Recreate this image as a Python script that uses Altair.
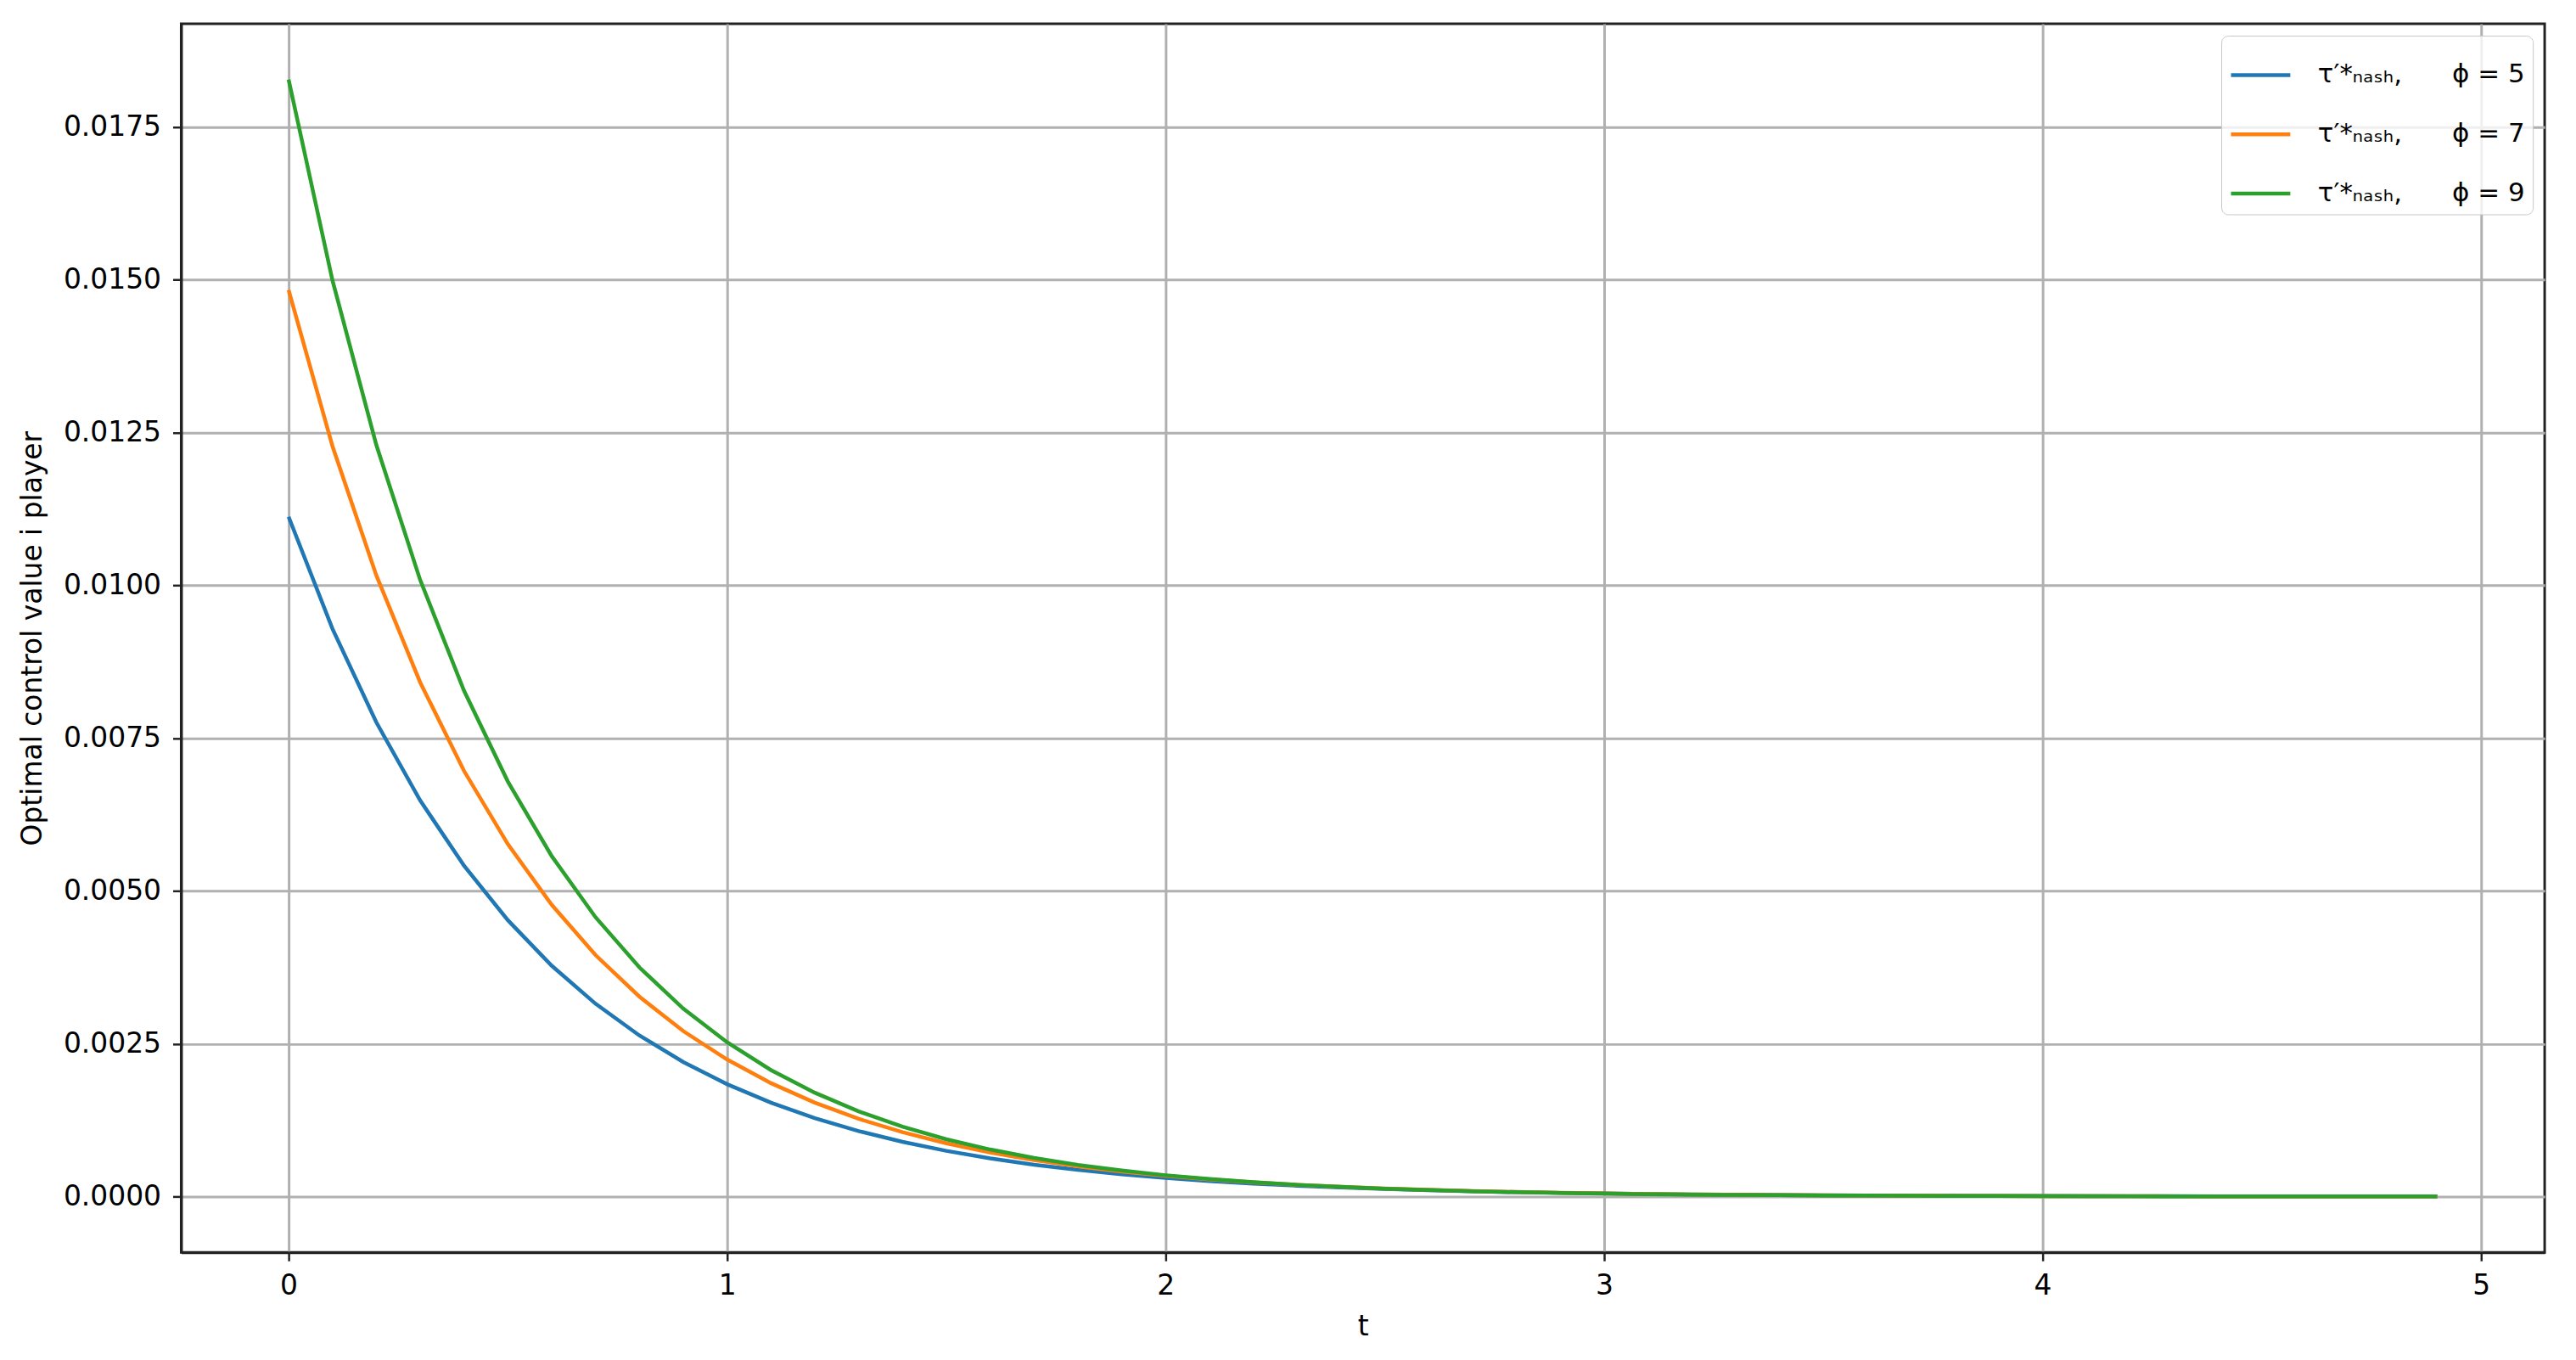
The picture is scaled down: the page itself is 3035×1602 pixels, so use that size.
import altair as alt
import pandas as pd

# time grid (t)
t_vals = [0.0, 0.1, 0.2, 0.3, 0.4, 0.5, 0.6, 0.7, 0.8, 0.9,
          1.0, 1.1, 1.2, 1.3, 1.4, 1.5, 1.6, 1.7, 1.8, 1.9,
          2.0, 2.1, 2.2, 2.3, 2.4, 2.5, 2.6, 2.7, 2.8, 2.9,
          3.0, 3.1, 3.2, 3.3, 3.4, 3.5, 3.6, 3.7, 3.8, 3.9,
          4.0, 4.1, 4.2, 4.3, 4.4, 4.5, 4.6, 4.7, 4.8, 4.9]

# series values
phi5 = [0.011120, 0.009288, 0.007758, 0.006480, 0.005413, 0.004521, 0.003776, 0.003154, 0.002635, 0.002201,
        0.001838, 0.001535, 0.001282, 0.001071, 0.000895, 0.000747, 0.000624, 0.000521, 0.000436, 0.000364,
        0.000304, 0.000254, 0.000212, 0.000177, 0.000148, 0.000124, 0.000103, 0.000086, 0.000072, 0.000060,
        0.000050, 0.000042, 0.000035, 0.000029, 0.000025, 0.000021, 0.000017, 0.000014, 0.000012, 0.000010,
        0.0000084, 0.0000070, 0.0000059, 0.0000049, 0.0000041, 0.0000034, 0.0000029, 0.0000024, 0.0000020, 0.0000017]

phi7 = [0.014830, 0.012276, 0.010162, 0.008412, 0.006963, 0.005764, 0.004772, 0.003950, 0.003270, 0.002707,
        0.002241, 0.001855, 0.001535, 0.001271, 0.001052, 0.000871, 0.000721, 0.000597, 0.000494, 0.000409,
        0.000339, 0.000280, 0.000232, 0.000192, 0.000159, 0.000132, 0.000109, 0.000090, 0.000075, 0.000062,
        0.000051, 0.000042, 0.000035, 0.000029, 0.000024, 0.000020, 0.000017, 0.000014, 0.000011, 0.0000094,
        0.0000078, 0.0000064, 0.0000053, 0.0000044, 0.0000036, 0.0000030, 0.0000025, 0.0000021, 0.0000017, 0.0000014]

phi9 = [0.018270, 0.014988, 0.012296, 0.010087, 0.008275, 0.006789, 0.005569, 0.004569, 0.003748, 0.003075,
        0.002523, 0.002069, 0.001698, 0.001393, 0.001143, 0.000937, 0.000769, 0.000631, 0.000518, 0.000425,
        0.000348, 0.000286, 0.000234, 0.000192, 0.000158, 0.000129, 0.000106, 0.000087, 0.000071, 0.000059,
        0.000048, 0.000039, 0.000032, 0.000027, 0.000022, 0.000018, 0.000015, 0.000012, 0.000010, 0.0000082,
        0.0000067, 0.0000055, 0.0000045, 0.0000037, 0.0000030, 0.0000025, 0.0000020, 0.0000017, 0.0000014, 0.0000011]

SP = "\u00a0"
labels = ["τ′*ₙₐₛₕ," + SP * 6 + "ϕ" + SP + "=" + SP + "5",
          "τ′*ₙₐₛₕ," + SP * 6 + "ϕ" + SP + "=" + SP + "7",
          "τ′*ₙₐₛₕ," + SP * 6 + "ϕ" + SP + "=" + SP + "9"]
colors = ["#1f77b4", "#ff7f0e", "#2ca02c"]
x_ticks = [0, 1, 2, 3, 4, 5]
y_ticks = [0.0, 0.0025, 0.005, 0.0075, 0.01, 0.0125, 0.015, 0.0175]

rows = []
for lab, series in zip(labels, [phi5, phi7, phi9]):
    for i, (t, v) in enumerate(zip(t_vals, series)):
        rows.append({"t": t, "value": v, "series": lab, "order": i})
df = pd.DataFrame(rows)

FONT = "DejaVu Sans"

chart = alt.Chart(df).mark_line(strokeWidth=4.5).encode(
    x=alt.X("t:Q",
            scale=alt.Scale(domain=[-0.245, 5.145], nice=False, zero=False),
            axis=alt.Axis(values=x_ticks, format="d", title="t",
                          labelPadding=13, titlePadding=16)),
    y=alt.Y("value:Q",
            scale=alt.Scale(domain=[-0.0009135, 0.0191835], nice=False, zero=False),
            axis=alt.Axis(values=y_ticks, format=".4f",
                          title="Optimal control value i player",
                          labelPadding=14, titlePadding=19)),
    color=alt.Color("series:N",
                    scale=alt.Scale(domain=labels, range=colors),
                    legend=alt.Legend(title=None, orient="top-right", offset=14,
                                      padding=9, strokeColor="#c8c8c8",
                                      fillColor="rgba(255,255,255,0.8)",
                                      cornerRadius=8, symbolType="stroke",
                                      symbolSize=4900, symbolStrokeWidth=4.5,
                                      labelFontSize=31, labelFont=FONT,
                                      labelColor="black", labelOffset=30,
                                      rowPadding=17, labelLimit=500)),
    order="order:Q",
    detail="series:N",
).properties(
    width=2792,
    height=1451,
    background="white",
    autosize=alt.AutoSizeParams(type="none"),
    padding={"left": 206, "top": 18, "right": 29, "bottom": 125},
).configure_axis(
    labelFont=FONT, labelFontSize=33, labelColor="black",
    titleFont=FONT, titleFontSize=33, titleColor="black", titleFontWeight="normal",
    domainColor="#222222", domainWidth=3,
    tickColor="#222222", tickWidth=2.5, tickSize=10,
    gridColor="#b0b0b0", gridWidth=3, grid=True,
).configure_view(
    stroke="#222222", strokeWidth=3,
)

chart.save("out.html", embed_options={"renderer": "svg", "actions": False})
